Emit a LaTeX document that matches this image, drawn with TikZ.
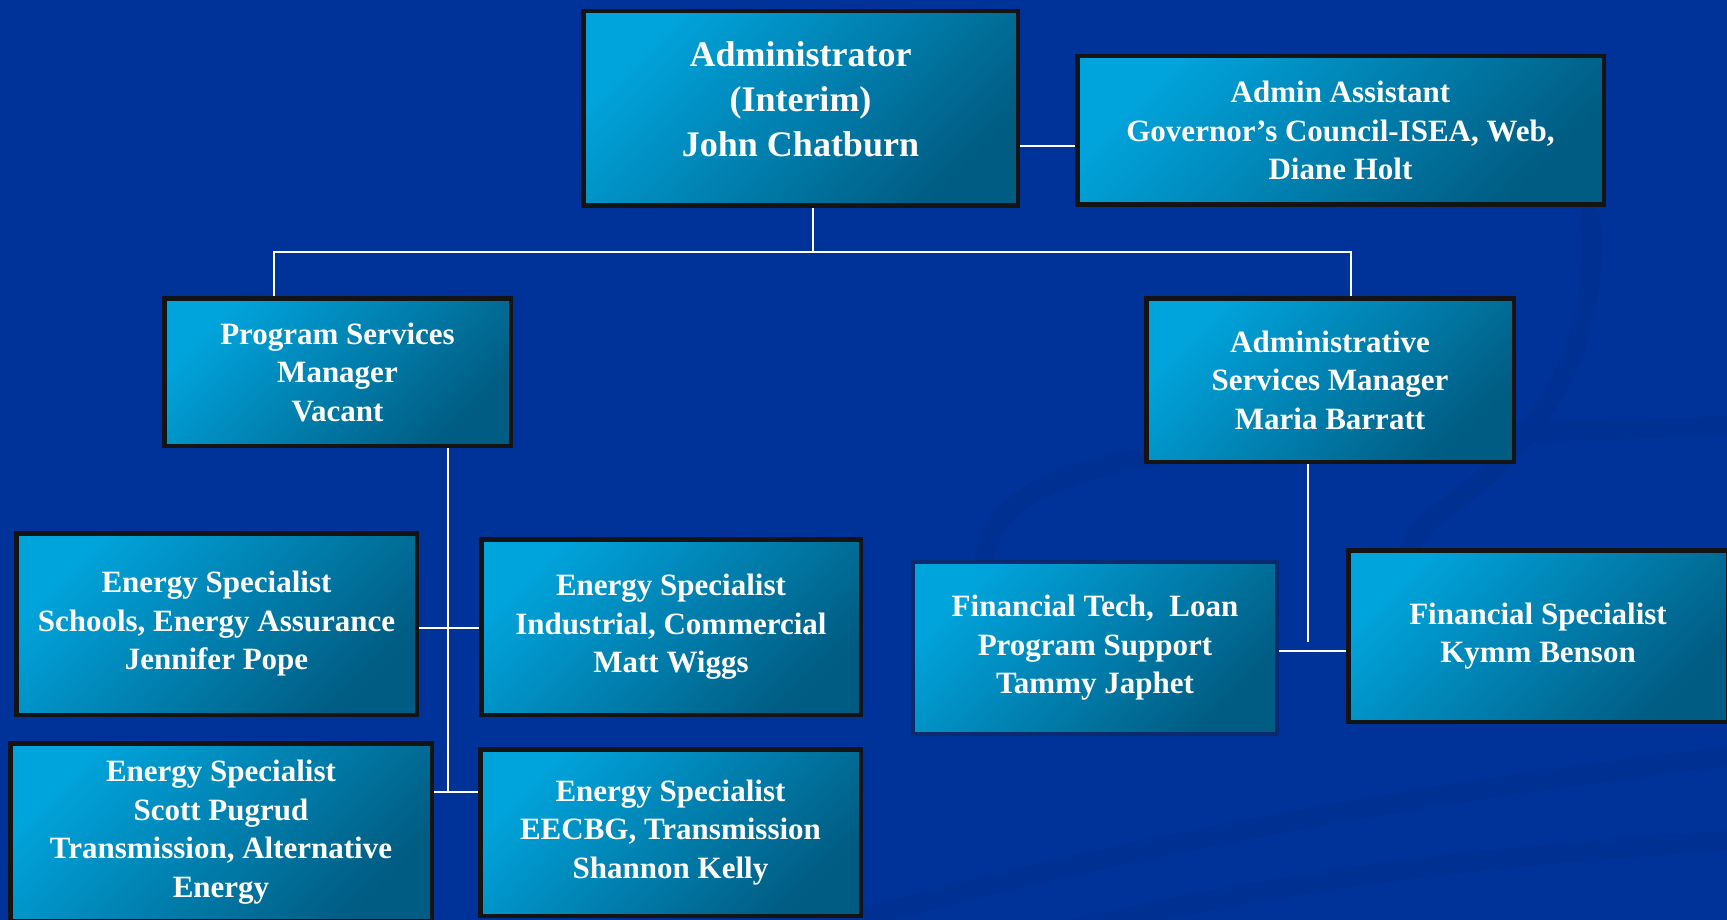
\documentclass[tikz,border=0pt]{standalone}
\usepackage{fontspec}
\setmainfont{Liberation Serif}

\definecolor{bgblue}{HTML}{003399}
\definecolor{bgdark}{HTML}{003091}
\definecolor{boxlight}{HTML}{00A4DC}
\definecolor{boxdark}{HTML}{005C82}
\definecolor{navyline}{HTML}{0B2A70}

\begin{document}
\begin{tikzpicture}[x=1pt, y=-1pt,
    box/.style={rectangle, draw=black!92, line width=4.5pt, align=center, text=white,
        top color=boxlight, bottom color=boxdark, shading angle=45, inner sep=0pt,
        font=\bfseries\fontsize{31}{38.5}\selectfont},
    bigbox/.style={box, font=\bfseries\fontsize{36}{45}\selectfont},
    link/.style={white, line width=1.8pt},
    swoosh/.style={bgdark, line width=20pt, line cap=round}]

        \useasboundingbox (0,0) rectangle (1727,920);
        \clip (0,0) rectangle (1727,920);
        \fill[bgblue] (0,0) rectangle (1727,920);

        % background swooshes
        \draw[swoosh] (1740,425) .. controls (1450,440) and (1080,420) .. (1000,520) .. controls (955,585) and (1010,645) .. (1140,690);
        \draw[swoosh] (1590,215) .. controls (1600,330) and (1560,430) .. (1430,520) .. controls (1385,560) and (1400,630) .. (1480,690);
        \draw[swoosh] (820,930) .. controls (1100,850) and (1400,795) .. (1740,755);
        \draw[swoosh] (1050,935) .. controls (1300,875) and (1500,855) .. (1740,840);

        % top row
        \node[bigbox, text depth=18pt, minimum width=434.5pt, minimum height=194.5pt] (admin) at (800.5,108.5) {Administrator\\(Interim)\\John Chatburn};
        \node[box, minimum width=526.5pt, minimum height=148.5pt] (assist) at (1340.5,130.5) {Admin Assistant\\Governor’s Council-ISEA, Web,\\Diane Holt};

        % managers
        \node[box, minimum width=346.5pt, minimum height=147.5pt] (psm) at (337.5,372) {Program Services\\Manager\\Vacant};
        \node[box, minimum width=367.5pt, minimum height=163.5pt] (asm) at (1330,380) {Administrative\\Services Manager\\Maria Barratt};

        % energy specialists
        \node[box, minimum width=400.5pt, minimum height=181.5pt] (pope) at (216.5,624) {Energy Specialist\\Schools, Energy Assurance\\Jennifer Pope};
        \node[box, minimum width=379.5pt, minimum height=175.5pt] (wiggs) at (671,627) {Energy Specialist\\Industrial, Commercial\\Matt Wiggs};
        \node[box, minimum width=421.5pt, minimum height=177.5pt] (pugrud) at (221,832) {Energy Specialist\\Scott Pugrud\\Transmission, Alternative\\Energy};
        \node[box, minimum width=380.5pt, minimum height=166.5pt] (kelly) at (670.5,832.5) {Energy Specialist\\EECBG, Transmission\\Shannon Kelly};

        % financial staff
        \node[box, draw=navyline, line width=4pt, minimum width=364pt, minimum height=172pt] (fintech) at (1095,648) {Financial Tech,\ \ Loan\\Program Support\\Tammy Japhet};
        \node[box, minimum width=379.5pt, minimum height=171.5pt] (finspec) at (1538,636) {Financial Specialist\\Kymm Benson};

        % connectors
        \coordinate (drop) at (813,252);
        \coordinate (busL) at (274,252);
        \coordinate (busR) at (1351,252);
        \coordinate (side) at (1020,146);
        \coordinate (rowA) at (448,628);
        \coordinate (rowB) at (448,792);
        \coordinate (finjoin) at (1308,642);
        \coordinate (finrow) at (1308,651);

        \draw[link] (admin.south -| drop) -- (drop);
        \draw[link] (psm.north -| busL) -- (busL) -- (busR) -- (asm.north -| busR);
        \draw[link] (admin.east |- side) -- (assist.west |- side);

        \draw[link] (psm.south -| rowB) -- (rowB);
        \draw[link] (pope.east |- rowA) -- (wiggs.west |- rowA);
        \draw[link] (pugrud.east |- rowB) -- (kelly.west |- rowB);

        \draw[link] (asm.south -| finjoin) -- (finjoin);
        \draw[link] (fintech.east |- finrow) -- (finspec.west |- finrow);
    \end{tikzpicture}
\end{document}
